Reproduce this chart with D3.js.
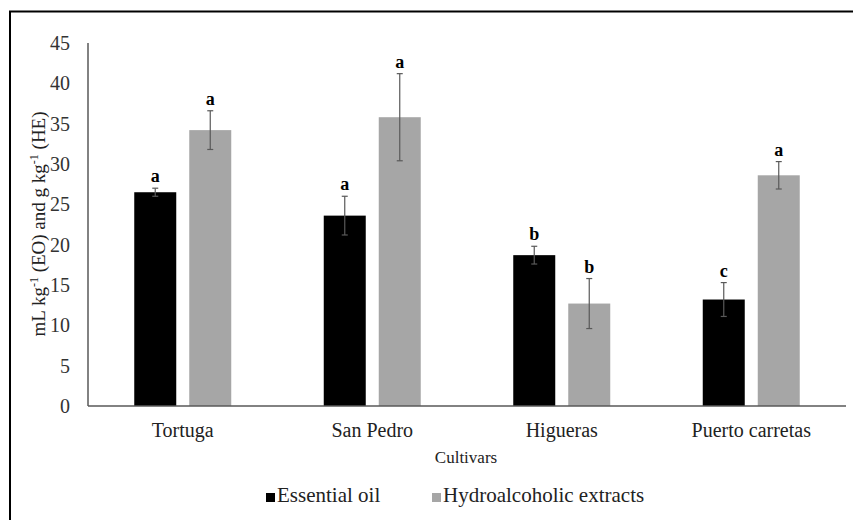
<html>
<meta charset="utf-8">
<style>
body { margin: 0; background: #fff; }
text { font-family: "Liberation Serif", "Times New Roman", serif; }
</style>
<body>
<script src="https://cdn.jsdelivr.net/npm/d3@7"></script>
<script>

var cultivars = ['Tortuga', 'San Pedro', 'Higueras', 'Puerto carretas'];
var series = ['Essential oil', 'Hydroalcoholic extracts'];
var eo = [26.5, 23.6, 18.7, 13.2];
var eo_err = [0.5, 2.4, 1.1, 2.1];
var eo_letters = ['a', 'a', 'b', 'c'];
var he = [34.2, 35.8, 12.7, 28.6];
var he_err = [2.4, 5.4, 3.1, 1.7];
var he_letters = ['a', 'a', 'b', 'a'];
var yticks = [0, 5, 10, 15, 20, 25, 30, 35, 40, 45];

var colors = ['#000000', '#a6a6a6'];

/* global settings (note: "top" is taken by window.top, so plot_ prefix) */
var width = 853, height = 520,
    plot_left = 88, plot_right = 846, plot_top = 43, plot_bottom = 406;

var svg = d3.select('body').append('svg')
    .attr('width', width)
    .attr('height', height);

// frame around the whole figure (runs off the page right and bottom)
svg.append('rect')
    .attr('x', 10).attr('y', 11.5)
    .attr('width', 900).attr('height', 600)
    .attr('fill', 'none').attr('stroke', '#000').attr('stroke-width', 2);

var x = d3.scaleBand().domain(cultivars).range([plot_left, plot_right]);
var y = d3.scaleLinear().domain([0, 45]).range([plot_bottom, plot_top]);

var barw = 42, off = 27.5;

// y tick labels
svg.selectAll('.ytick').data(yticks).enter().append('text')
    .attr('x', 70).attr('y', function(d){ return y(d); })
    .attr('dy', '0.35em')
    .attr('text-anchor', 'end')
    .attr('font-size', 20)
    .attr('fill', '#333')
    .text(function(d){ return d; });

// table of bars
var rows = [];
cultivars.forEach(function(c, i) {
    rows.push({c: c, s: 0, v: eo[i], e: eo_err[i], l: eo_letters[i]});
    rows.push({c: c, s: 1, v: he[i], e: he_err[i], l: he_letters[i]});
});
function cx(d) { return x(d.c) + x.bandwidth()/2 + (d.s == 0 ? -off : off); }

svg.selectAll('.bar').data(rows).enter().append('rect')
    .attr('x', function(d){ return cx(d) - barw/2; })
    .attr('y', function(d){ return y(d.v); })
    .attr('width', barw)
    .attr('height', function(d){ return y(0) - y(d.v); })
    .attr('fill', function(d){ return colors[d.s]; });

// error bars
var eb = svg.selectAll('.err').data(rows).enter().append('g')
    .attr('stroke', '#595959').attr('stroke-width', 1.2);
eb.append('line')
    .attr('x1', cx).attr('x2', cx)
    .attr('y1', function(d){ return y(d.v + d.e); })
    .attr('y2', function(d){ return y(d.v - d.e); });
eb.append('line')
    .attr('x1', function(d){ return cx(d) - 3; }).attr('x2', function(d){ return cx(d) + 3; })
    .attr('y1', function(d){ return y(d.v + d.e); }).attr('y2', function(d){ return y(d.v + d.e); });
eb.append('line')
    .attr('x1', function(d){ return cx(d) - 3; }).attr('x2', function(d){ return cx(d) + 3; })
    .attr('y1', function(d){ return y(d.v - d.e); }).attr('y2', function(d){ return y(d.v - d.e); });

// significance letters
svg.selectAll('.sig').data(rows).enter().append('text')
    .attr('x', cx)
    .attr('y', function(d){ return y(d.v + d.e) - 6; })
    .attr('text-anchor', 'middle')
    .attr('font-size', 18).attr('font-weight', 'bold')
    .text(function(d){ return d.l; });

// axes lines
svg.append('line')
    .attr('x1', plot_left).attr('x2', plot_left).attr('y1', plot_top).attr('y2', plot_bottom)
    .attr('stroke', '#595959').attr('stroke-width', 1.5);
svg.append('line')
    .attr('x1', plot_left).attr('x2', plot_right).attr('y1', plot_bottom).attr('y2', plot_bottom)
    .attr('stroke', '#595959').attr('stroke-width', 1.5);

// category labels
svg.selectAll('.xl').data(cultivars).enter().append('text')
    .attr('x', function(d){ return x(d) + x.bandwidth()/2; })
    .attr('y', 437)
    .attr('text-anchor', 'middle')
    .attr('font-size', 20)
    .attr('fill', '#222')
    .text(function(d){ return d; });

svg.append('text')
    .attr('x', 466).attr('y', 463)
    .attr('text-anchor', 'middle')
    .attr('font-size', 17)
    .attr('fill', '#222')
    .text('Cultivars');

// y title
var yt = svg.append('text')
    .attr('transform', 'translate(45,224) rotate(-90)')
    .attr('text-anchor', 'middle')
    .attr('font-size', 19)
    .attr('fill', '#222');
yt.append('tspan').text('mL kg');
yt.append('tspan').attr('dy', -7).attr('font-size', 12).text('-1');
yt.append('tspan').attr('dy', 7).text(' (EO) and g kg');
yt.append('tspan').attr('dy', -7).attr('font-size', 12).text('-1');
yt.append('tspan').attr('dy', 7).text(' (HE)');

// legend
var lx = [266, 432];
var lg = svg.selectAll('.lg').data(series).enter().append('g')
    .attr('transform', function(d, i){ return 'translate(' + lx[i] + ',0)'; });
lg.append('rect')
    .attr('x', 0).attr('y', 493).attr('width', 9).attr('height', 9)
    .attr('fill', function(d, i){ return colors[i]; });
lg.append('text')
    .attr('x', 11).attr('y', 502)
    .attr('font-size', 21)
    .attr('fill', '#222')
    .text(function(d){ return d; });

</script>
</body>
</html>
